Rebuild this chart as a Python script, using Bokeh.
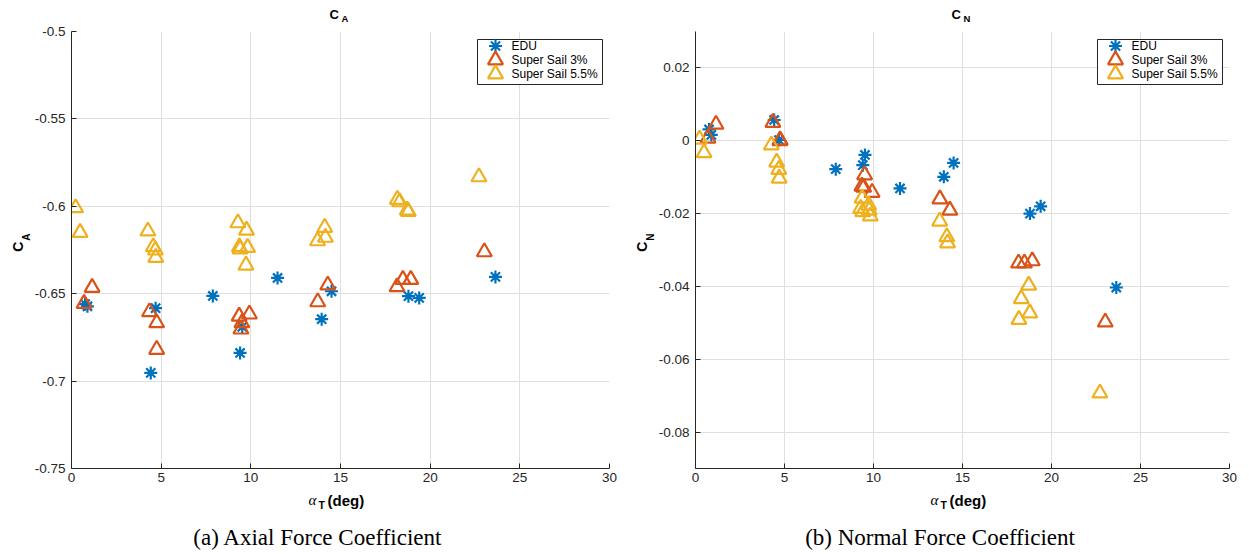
import math

from bokeh.embed import file_html
from bokeh.resources import INLINE
from bokeh.plotting import figure
from bokeh.layouts import row, column
from bokeh.models import ColumnDataSource, Range1d, FixedTicker, NumeralTickFormatter
from bokeh.core.properties import value

# ---------------------------------------------------------------- data
# total angle of attack (deg) for each run, per configuration
edu_alpha = [0.76, 0.89, 4.42, 4.69, 7.88, 9.40, 9.52, 11.49, 13.95, 14.50, 18.79, 19.39, 23.64]
edu_ca = [-0.6560, -0.6572, -0.6953, -0.6583, -0.6513, -0.6839, -0.6690, -0.6410,
          -0.6646, -0.6486, -0.6514, -0.6524, -0.6404]
edu_cn = [0.0031, 0.0016, 0.0057, 0.0002, -0.0078, -0.0067, -0.0039, -0.0131,
          -0.0099, -0.0061, -0.0200, -0.0180, -0.0403]

ss3_alpha = [0.70, 1.15, 4.35, 4.75, 4.75, 9.35, 9.45, 9.50, 9.92, 13.73, 14.29,
             18.15, 18.48, 18.92, 23.02]
ss3_ca = [-0.6556, -0.6465, -0.6604, -0.6667, -0.6819, -0.6629, -0.6703, -0.6667,
          -0.6617, -0.6547, -0.6451, -0.6461, -0.6419, -0.6419, -0.6261]
ss3_cn = [0.0007, 0.0045, 0.0050, 0.0002, 0.0000, -0.0125, -0.0128, -0.0094,
          -0.0142, -0.0160, -0.0191, -0.0336, -0.0336, -0.0330, -0.0498]

ss55_alpha = [0.23, 0.48, 4.26, 4.56, 4.68, 4.70, 9.28, 9.76, 9.36, 9.40, 9.82, 9.73,
              13.72, 14.12, 14.16, 18.17, 18.30, 18.72, 18.78, 22.72]
ss55_ca = [-0.6009, -0.6150, -0.6142, -0.6232, -0.6251, -0.6293, -0.6095, -0.6137,
           -0.6232, -0.6245, -0.6236, -0.6337, -0.6198, -0.6121, -0.6178, -0.5961,
           -0.5975, -0.6022, -0.6030, -0.5832]
ss55_cn = [0.0004, -0.0033, -0.0012, -0.0059, -0.0079, -0.0103, -0.0186, -0.0191,
           -0.0158, -0.0195, -0.0207, -0.0177, -0.0221, -0.0264, -0.0281, -0.0491,
           -0.0434, -0.0397, -0.0473, -0.0693]

series_names = ["EDU", "Super Sail 3%", "Super Sail 5.5%"]
alpha_ticks = [0, 5, 10, 15, 20, 25, 30]
ca_ticks = [-0.75, -0.7, -0.65, -0.6, -0.55, -0.5]
cn_ticks = [-0.08, -0.06, -0.04, -0.02, 0, 0.02]

# ---------------------------------------------------------------- style
BLUE = "#0072BD"
ORANGE = "#D95319"
YELLOW = "#EDB120"
AXIS = "#262626"
GRID = "#dfdfdf"
SANS = "Liberation Sans"
SERIF = "Liberation Serif"

TOP_H = 23          # strip holding the plot title
MID_H = 467         # plot itself
BOT_H = 64          # strip holding the x label and the caption
PLOT_TOP, PLOT_BOTTOM = 8, 22
FRAME_H = MID_H - PLOT_TOP - PLOT_BOTTOM
DESCENT = 0.25      # glyphs sit this fraction of the font size below the given baseline


def strip(width, height):
    """Bare figure whose frame is the whole canvas, used for the texts around a plot."""
    s = figure(width=width, height=height, x_range=Range1d(0, width),
               y_range=Range1d(0, height), output_backend="svg", toolbar_location=None,
               min_border=0, x_axis_location=None, y_axis_location=None)
    s.title.visible = False
    s.outline_line_color = None
    s.background_fill_color = "white"
    s.border_fill_color = "white"
    s.xgrid.visible = False
    s.ygrid.visible = False
    return s


def put(s, x, y_from_top, text, size, style="bold", font=SANS, align="left", rotated=False):
    shift = DESCENT * size
    if rotated:
        x, angle = x - shift, math.pi / 2
    else:
        y_from_top, angle = y_from_top - shift, 0.0
    s.text(x=[x], y=[s.height - y_from_top], text=[text], text_font=value(font),
           text_font_size=f"{size}px", text_font_style=style, text_color="black",
           text_align=align, text_baseline="alphabetic", angle=angle)


def make_plot(width, left, right, y_range, y_ticks, ys):
    p = figure(width=width, height=MID_H, x_range=Range1d(0, 30), y_range=Range1d(*y_range),
               output_backend="svg", toolbar_location=None,
               min_border_left=left, min_border_right=right,
               min_border_top=PLOT_TOP, min_border_bottom=PLOT_BOTTOM)
    p.title.visible = False
    p.outline_line_color = None
    p.background_fill_color = "white"
    p.border_fill_color = "white"

    frame_w = width - left - right
    # pixel coordinate system of the frame, used for the legend
    p.extra_x_ranges = {"px": Range1d(0, frame_w)}
    p.extra_y_ranges = {"px": Range1d(0, FRAME_H)}

    p.xaxis.ticker = FixedTicker(ticks=alpha_ticks)
    p.yaxis.ticker = FixedTicker(ticks=y_ticks)
    p.xaxis.formatter = NumeralTickFormatter(format="0")
    p.yaxis.formatter = NumeralTickFormatter(format="0.[00]")
    for ax in (p.xaxis, p.yaxis):
        ax.axis_line_color = AXIS
        ax.axis_line_width = 1
        ax.major_tick_line_color = AXIS
        ax.major_tick_in = 5
        ax.major_tick_out = 0
        ax.minor_tick_line_color = None
        ax.major_label_text_font = SANS
        ax.major_label_text_font_size = "13.5px"
        ax.major_label_text_color = AXIS
    p.xaxis.major_label_standoff = 4
    p.yaxis.major_label_standoff = 6
    p.grid.grid_line_color = GRID
    p.grid.grid_line_width = 1

    # measurements
    ys_edu, ys_3, ys_55 = ys
    p.scatter(x="a", y="v", source=ColumnDataSource(dict(a=edu_alpha, v=ys_edu)),
              marker="asterisk", size=13, line_color=BLUE, line_width=2.2)
    p.scatter(x="a", y="v", source=ColumnDataSource(dict(a=ss3_alpha, v=ys_3)),
              marker="triangle", size=15, fill_color=None, line_color=ORANGE, line_width=2.2)
    p.scatter(x="a", y="v", source=ColumnDataSource(dict(a=ss55_alpha, v=ys_55)),
              marker="triangle", size=15, fill_color=None, line_color=YELLOW, line_width=2.2)

    # legend box in the top-right corner
    bx1 = frame_w - 7
    bx0 = bx1 - 125
    by1 = FRAME_H - 8
    by0 = by1 - 45
    p.quad(left=[bx0], right=[bx1], bottom=[by0], top=[by1], x_range_name="px",
           y_range_name="px", fill_color="white", line_color=AXIS, line_width=1)
    rows_y = [by1 - 6.5, by1 - 20.5, by1 - 34.5]
    gx = bx0 + 18
    p.scatter(x=[gx], y=[rows_y[0]], x_range_name="px", y_range_name="px",
              marker="asterisk", size=13, line_color=BLUE, line_width=2.2)
    p.scatter(x=[gx], y=[rows_y[1]], x_range_name="px", y_range_name="px",
              marker="triangle", size=15, fill_color=None, line_color=ORANGE, line_width=2.2)
    p.scatter(x=[gx], y=[rows_y[2]], x_range_name="px", y_range_name="px",
              marker="triangle", size=15, fill_color=None, line_color=YELLOW, line_width=2.2)
    p.text(x=[bx0 + 34] * 3, y=rows_y, text=series_names, x_range_name="px",
           y_range_name="px", text_font=value(SANS), text_font_size="12px",
           text_color="black", text_baseline="middle", text_align="left")
    return p


def make_panel(width, ylab_w, left, right, y_range, y_ticks, ys, sym, caption, ylab_x):
    plot = make_plot(width - ylab_w, left, right, y_range, y_ticks, ys)
    cx = ylab_w + left + (width - ylab_w - left - right) / 2   # frame centre in panel

    top = strip(width, TOP_H)
    put(top, cx - 11, 17.5, "C", 13)
    put(top, cx + 1, 20.5, sym, 9.5)

    ylab = strip(ylab_w, MID_H)
    mid = FRAME_H / 2 + PLOT_TOP
    put(ylab, ylab_x, mid + 9, "C", 14, rotated=True)
    put(ylab, ylab_x + 7, mid - 3, sym, 10, rotated=True)

    bot = strip(width, BOT_H)
    put(bot, cx - 32, 13, "\u03b1", 15, style="italic", font=SERIF)
    put(bot, cx - 22, 17, "T", 10.5)
    put(bot, cx - 13, 14, "(deg)", 15)
    put(bot, cx - 22.5, 52.7, caption, 23, style="normal", font=SERIF, align="center")

    return column(top, row(ylab, plot), bot)


left_panel = make_panel(630, 31, 40, 21, (-0.75, -0.5), ca_ticks,
                        (edu_ca, ss3_ca, ss55_ca), "A", "(a) Axial Force Coefficient", 21)
right_panel = make_panel(619, 25, 40, 20, (-0.09, 0.03), cn_ticks,
                         (edu_cn, ss3_cn, ss55_cn), "N", "(b) Normal Force Coefficient", 15)

layout = row(left_panel, right_panel)
open("out.html", "w").write(file_html(layout, INLINE))
